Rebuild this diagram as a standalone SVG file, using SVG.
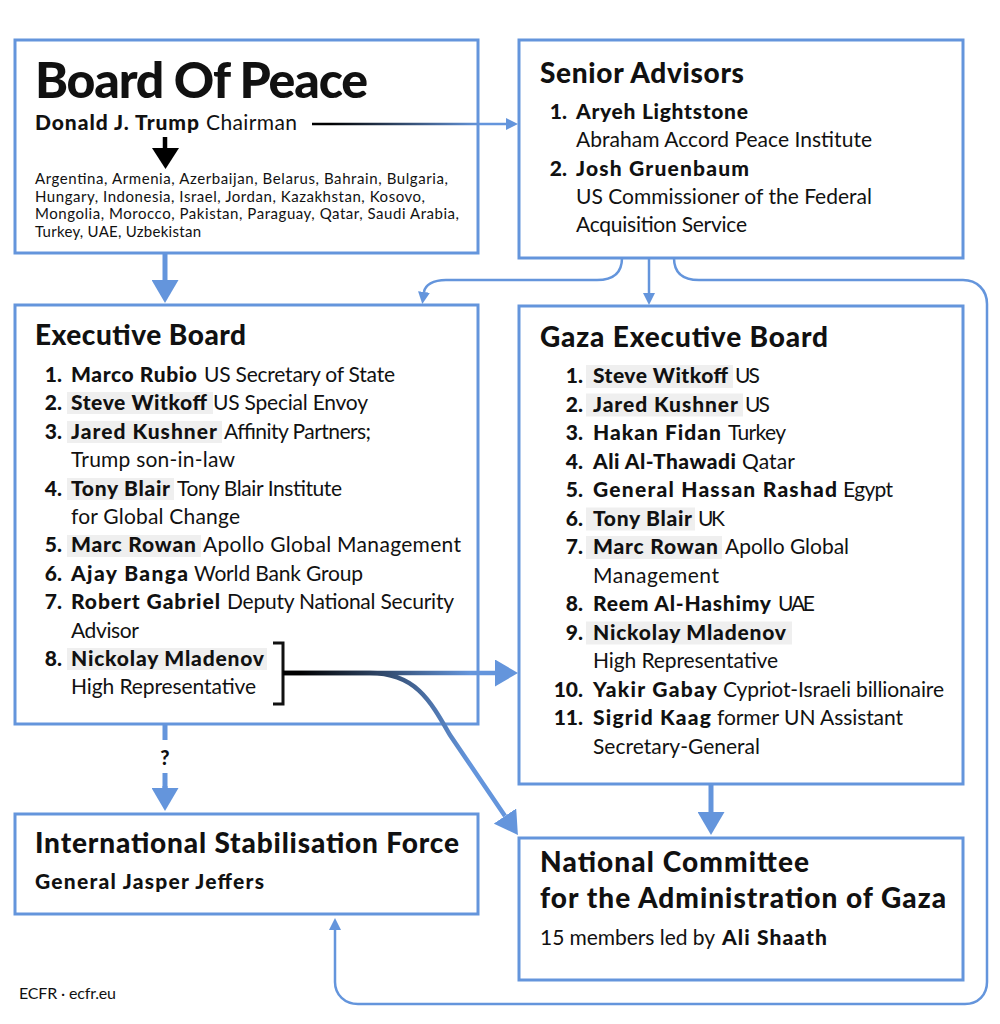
<svg xmlns="http://www.w3.org/2000/svg" width="1000" height="1024" viewBox="0 0 1000 1024">
<style>
.box{fill:#fff;stroke:#6495dc;stroke-width:3}
text{font-family:Lato,"Liberation Sans",sans-serif;fill:#111}
.h0{font-size:50px;font-weight:900}
.h1{font-size:28px;font-weight:900}
.it{font-size:21px}
.b{font-weight:900}
.r{font-weight:400}
.num{font-size:21px;font-weight:900;text-anchor:end}
.sm{font-size:15px}
.hl{fill:#efefef}
.conn{fill:none;stroke:#6495dc}
</style>
<defs>
<linearGradient id="gTrump" gradientUnits="userSpaceOnUse" x1="330" y1="0" x2="480" y2="0">
<stop offset="0" stop-color="#000"/><stop offset="1" stop-color="#6495dc"/>
</linearGradient>
<linearGradient id="gBracket" gradientUnits="userSpaceOnUse" x1="300" y1="0" x2="470" y2="0">
<stop offset="0" stop-color="#000"/><stop offset="1" stop-color="#6495dc"/>
</linearGradient>
<marker id="ahBig" markerUnits="userSpaceOnUse" viewBox="0 0 23 27" refX="0" refY="13.5" markerWidth="23" markerHeight="27" orient="auto">
<path d="M0,0 L23,13.5 L0,27 Z" fill="#6495dc"/>
</marker>
<marker id="ahThin" markerUnits="userSpaceOnUse" viewBox="0 0 12 12" refX="0" refY="6" markerWidth="12" markerHeight="12" orient="auto">
<path d="M0,0 L12,6 L0,12 Z" fill="#6495dc"/>
</marker>
</defs>
<rect width="1000" height="1024" fill="#fff"/>

<g id="board-of-peace">
<rect class="box" x="15" y="40" width="463" height="213"/>
<text class="h0" x="35" y="98" textLength="333">Board Of Peace</text>
<text class="it b" x="35" y="130" textLength="164">Donald J. Trump</text>
<text class="it r" x="206" y="130" textLength="91">Chairman</text>
<line x1="165" y1="137" x2="165" y2="150" stroke="#000" stroke-width="4.5"/>
<polygon points="152,148 179,148 165.5,169" fill="#000"/>
<text class="sm" x="35" y="184" textLength="413">Argentina, Armenia, Azerbaijan, Belarus, Bahrain, Bulgaria,</text>
<text class="sm" x="35" y="202" textLength="390">Hungary, Indonesia, Israel, Jordan, Kazakhstan, Kosovo,</text>
<text class="sm" x="35" y="219" textLength="424">Mongolia, Morocco, Pakistan, Paraguay, Qatar, Saudi Arabia,</text>
<text class="sm" x="35" y="237" textLength="166">Turkey, UAE, Uzbekistan</text>
</g>

<g id="senior-advisors">
<rect class="box" x="519" y="40" width="444" height="218"/>
<text class="h1" x="540" y="83" textLength="204">Senior Advisors</text>
<text class="num" x="567" y="119">1.</text>
<text class="it b" x="576" y="119" textLength="172">Aryeh Lightstone</text>
<text class="it r" x="576" y="147" textLength="296">Abraham Accord Peace Institute</text>
<text class="num" x="567" y="176">2.</text>
<text class="it b" x="576" y="176" textLength="173">Josh Gruenbaum</text>
<text class="it r" x="576" y="204" textLength="296">US Commissioner of the Federal</text>
<text class="it r" x="576" y="232" textLength="171">Acquisition Service</text>
</g>

<g id="executive-board">
<rect class="box" x="15" y="305" width="463" height="419"/>
<text class="h1" x="35" y="345" textLength="211">Executive Board</text>
<rect class="hl" x="67" y="392" width="146" height="22"/>
<rect class="hl" x="67" y="421" width="155" height="22"/>
<rect class="hl" x="67" y="478" width="107" height="22"/>
<rect class="hl" x="67" y="535" width="134" height="22"/>
<rect class="hl" x="67" y="648" width="200" height="22"/>
<text class="num" x="62" y="382">1.</text>
<text class="it b" x="71" y="382" textLength="126">Marco Rubio</text>
<text class="it r" x="204" y="382" textLength="191">US Secretary of State</text>
<text class="num" x="62" y="410.4">2.</text>
<text class="it b" x="71" y="410.4" textLength="136">Steve Witkoff</text>
<text class="it r" x="213" y="410.4" textLength="155">US Special Envoy</text>
<text class="num" x="62" y="438.8">3.</text>
<text class="it b" x="71" y="438.8" textLength="146">Jared Kushner</text>
<text class="it r" x="224" y="438.8" textLength="147">Affinity Partners;</text>
<text class="it r" x="71" y="467.2" textLength="164">Trump son-in-law</text>
<text class="num" x="62" y="495.6">4.</text>
<text class="it b" x="71" y="495.6" textLength="99">Tony Blair</text>
<text class="it r" x="177" y="495.6" textLength="165">Tony Blair Institute</text>
<text class="it r" x="71" y="524" textLength="169">for Global Change</text>
<text class="num" x="62" y="552.4">5.</text>
<text class="it b" x="71" y="552.4" textLength="125">Marc Rowan</text>
<text class="it r" x="203" y="552.4" textLength="258">Apollo Global Management</text>
<text class="num" x="62" y="580.8">6.</text>
<text class="it b" x="71" y="580.8" textLength="117">Ajay Banga</text>
<text class="it r" x="194" y="580.8" textLength="169">World Bank Group</text>
<text class="num" x="62" y="609.2">7.</text>
<text class="it b" x="71" y="609.2" textLength="149">Robert Gabriel</text>
<text class="it r" x="227" y="609.2" textLength="227">Deputy National Security</text>
<text class="it r" x="71" y="637.6" textLength="68">Advisor</text>
<text class="num" x="62" y="666">8.</text>
<text class="it b" x="71" y="666" textLength="193">Nickolay Mladenov</text>
<text class="it r" x="71" y="694.4" textLength="185">High Representative</text>
<path d="M273,643 L283,643 L283,704 L273,704" fill="none" stroke="#111" stroke-width="3"/>
</g>

<g id="gaza-executive-board">
<rect class="box" x="519" y="306" width="444" height="478"/>
<text class="h1" x="540" y="347" textLength="288">Gaza Executive Board</text>
<rect class="hl" x="586" y="365" width="147" height="23"/>
<rect class="hl" x="586" y="393.5" width="157" height="23"/>
<rect class="hl" x="586" y="507.5" width="109" height="23"/>
<rect class="hl" x="586" y="536" width="136" height="23"/>
<rect class="hl" x="586" y="621.5" width="206" height="23"/>
<text class="num" x="583" y="383">1.</text>
<text class="it b" x="593" y="383" textLength="135">Steve Witkoff</text>
<text class="it r" x="735" y="383" textLength="25">US</text>
<text class="num" x="583" y="411.5">2.</text>
<text class="it b" x="593" y="411.5" textLength="145">Jared Kushner</text>
<text class="it r" x="745" y="411.5" textLength="25">US</text>
<text class="num" x="583" y="440">3.</text>
<text class="it b" x="593" y="440" textLength="128">Hakan Fidan</text>
<text class="it r" x="728" y="440" textLength="58">Turkey</text>
<text class="num" x="583" y="468.5">4.</text>
<text class="it b" x="593" y="468.5" textLength="143">Ali Al-Thawadi</text>
<text class="it r" x="742" y="468.5" textLength="53">Qatar</text>
<text class="num" x="583" y="497">5.</text>
<text class="it b" x="593" y="497" textLength="244">General Hassan Rashad</text>
<text class="it r" x="843" y="497" textLength="50">Egypt</text>
<text class="num" x="583" y="525.5">6.</text>
<text class="it b" x="593" y="525.5" textLength="99">Tony Blair</text>
<text class="it r" x="698" y="525.5" textLength="27">UK</text>
<text class="num" x="583" y="554">7.</text>
<text class="it b" x="593" y="554" textLength="125">Marc Rowan</text>
<text class="it r" x="725" y="554" textLength="124">Apollo Global</text>
<text class="it r" x="593" y="582.5" textLength="126">Management</text>
<text class="num" x="583" y="611">8.</text>
<text class="it b" x="593" y="611" textLength="178">Reem Al-Hashimy</text>
<text class="it r" x="778" y="611" textLength="37">UAE</text>
<text class="num" x="583" y="639.5">9.</text>
<text class="it b" x="593" y="639.5" textLength="193">Nickolay Mladenov</text>
<text class="it r" x="593" y="668" textLength="185">High Representative</text>
<text class="num" x="583" y="696.5">10.</text>
<text class="it b" x="593" y="696.5" textLength="124">Yakir Gabay</text>
<text class="it r" x="723" y="696.5" textLength="221">Cypriot-Israeli billionaire</text>
<text class="num" x="583" y="725">11.</text>
<text class="it b" x="593" y="725" textLength="118">Sigrid Kaag</text>
<text class="it r" x="717" y="725" textLength="186">former UN Assistant</text>
<text class="it r" x="593" y="753.5" textLength="167">Secretary-General</text>
</g>

<g id="international-stabilisation-force">
<rect class="box" x="15" y="814" width="463" height="100"/>
<text class="h1" x="35" y="853" textLength="424">International Stabilisation Force</text>
<text class="it b" x="35" y="889" textLength="229">General Jasper Jeffers</text>
</g>

<g id="national-committee">
<rect class="box" x="519" y="838" width="444" height="142"/>
<text class="h1" x="540" y="872" textLength="269">National Committee</text>
<text class="h1" x="540" y="908" textLength="406">for the Administration of Gaza</text>
<text class="it r" x="540" y="945" textLength="175">15 members led by</text>
<text class="it b" x="722" y="945" textLength="105">Ali Shaath</text>
</g>

<g id="connectors">
<path d="M312,124 L506,124" fill="none" stroke="url(#gTrump)" stroke-width="2.5" marker-end="url(#ahThin)"/>
<path class="conn" d="M165,253 L165,280" stroke-width="5" marker-end="url(#ahBig)"/>
<path class="conn" d="M622,258 C622,273 613,280 597,280 L446,280 C433,280 425,285 424,292" stroke-width="2.5" marker-end="url(#ahThin)"/>
<path class="conn" d="M649,258 L649,293" stroke-width="2.5" marker-end="url(#ahThin)"/>
<path class="conn" d="M674,258 C674,273 683,280 699,280 L963,280 C977,280 987,290 987,304 L987,982 C987,995 978,1004 965,1004 L358,1004 C345,1004 335,995 335,982 L335,930" stroke-width="2.5" marker-end="url(#ahThin)"/>
<path d="M283,673 L495,673" fill="none" stroke="url(#gBracket)" stroke-width="4.5" marker-end="url(#ahBig)"/>
<path d="M283,673 L370,673 C415,673 430,700 450,735 L505,816" fill="none" stroke="url(#gBracket)" stroke-width="4.5" marker-end="url(#ahBig)"/>
<path class="conn" d="M711,784 L711,812" stroke-width="5" marker-end="url(#ahBig)"/>
<path class="conn" d="M165,724 L165,740 M165,773 L165,788" stroke-width="5"/>
<path class="conn" d="M165,786 L165,788" stroke-width="5" marker-end="url(#ahBig)"/>
<text class="b" x="165" y="765" font-size="20" text-anchor="middle">?</text>
</g>

<text x="19" y="999" font-size="16" textLength="97">ECFR · ecfr.eu</text>
</svg>
